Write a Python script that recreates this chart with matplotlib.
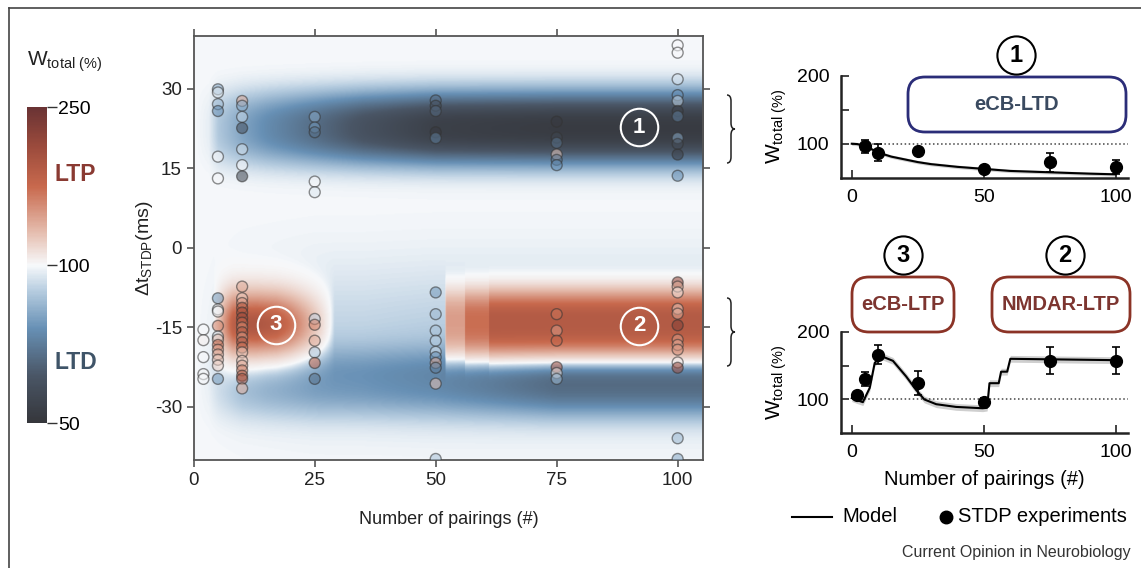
import numpy as np
import matplotlib
matplotlib.use('Agg')
import matplotlib.pyplot as plt
from matplotlib.colors import LinearSegmentedColormap, TwoSlopeNorm
from matplotlib.lines import Line2D
from matplotlib.patches import FancyBboxPatch, PathPatch
from matplotlib.path import Path
import matplotlib.cm as cm

plt.rcParams['font.family'] = ['Liberation Sans', 'DejaVu Sans']
plt.rcParams['mathtext.fontset'] = 'custom'
plt.rcParams['mathtext.rm'] = 'Liberation Sans'
plt.rcParams['mathtext.it'] = 'Liberation Sans:italic'
plt.rcParams['mathtext.bf'] = 'Liberation Sans:bold'
plt.rcParams['axes.unicode_minus'] = False

# ---------------- model map: strength of each domain vs number of pairings
knot_n        = [0, 3, 5, 10, 15, 20, 25, 35, 50, 60, 75, 100, 106]
ltd_up_amp    = [0, 2, 9, 16, 21, 25, 29, 37, 45, 46, 47, 47, 47]
ltd_low_core  = [0, 1, 4, 9, 11, 12, 13, 14, 16, 19, 24, 24, 24]
ltd_low_broad = [0, 1, 2, 4, 5, 6, 7, 7, 8, 8, 8, 8, 8]

ecb_ltp_n   = [0, 4, 6, 8, 10, 13, 17, 20, 25, 29, 106]
ecb_ltp_amp = [0, 0, 48, 88, 100, 102, 95, 76, 34, 0, 0]

nmdar_n   = [0, 51.9, 52, 55.9, 56, 60.9, 61, 106]
nmdar_amp = [0, 0, 55, 55, 80, 80, 100, 100]

# ---------------- single experiments (pairings, dt, W total %)
col_n = [2, 5, 10, 25, 50, 75, 100]
col_dt = {
    2:   [-15.4, -17.4, -20.6, -23.8, -24.7],
    5:   [29.9, 29.3, 27.1, 25.8, 17.2, 13.1,
          -9.5, -11.6, -12.0, -14.7, -16.7, -17.3, -18.3, -19.2, -20.1, -21.1, -22.2, -24.7],
    10:  [27.7, 26.8, 24.7, 22.6, 18.6, 15.6, 13.5,
          -7.3, -9.5, -10.4, -11.3, -12.2, -13.2, -14.1, -15.0, -15.9, -16.9, -17.8, -18.8,
          -19.7, -21.3, -22.2, -23.1, -24.1, -24.7, -26.5],
    25:  [24.7, 22.7, 21.8, 12.5, 10.5, -13.4, -14.5, -17.5, -19.7, -21.7, -24.7],
    50:  [27.8, 26.8, 25.8, 21.8, 20.7,
          -8.4, -12.5, -15.6, -17.5, -19.6, -20.6, -21.7, -22.6, -25.6, -39.8],
    75:  [23.8, 20.8, 19.8, 17.6, 16.6, 15.6, -12.5, -15.6, -17.5, -22.5, -23.6, -24.7],
    100: [38.2, 36.8, 31.8, 28.8, 27.7, 25.8, 24.8, 20.7, 19.6, 17.6, 13.6,
          -6.5, -7.3, -8.4, -11.5, -12.4, -14.6, -17.3, -18.3, -19.2, -21.6, -22.6, -35.9, -39.8],
}
col_w = {
    2:   [100, 105, 100, 102, 100],
    5:   [85, 97, 88, 80, 100, 100,
          82, 97, 102, 160, 95, 130, 175, 150, 140, 130, 120, 82],
    10:  [140, 85, 93, 62, 95, 100, 58,
          140, 125, 150, 190, 200, 210, 180, 160, 190, 150, 200, 170,
          130, 125, 145, 160, 185, 200, 140],
    25:  [85, 82, 72, 100, 97, 93, 160, 140, 90, 180, 72],
    50:  [70, 62, 70, 52, 75, 82, 88, 90, 92, 95, 80, 140, 75, 130, 90],
    75:  [52, 58, 72, 125, 72, 80, 170, 150, 180, 200, 110, 88],
    100: [100, 100, 96, 80, 93, 55, 75, 85, 60, 55, 80,
          220, 140, 115, 125, 140, 230, 150, 145, 150, 110, 210, 88, 85],
}

# ---------------- mean data and model for right panels
ltd_n   = [5, 10, 25, 50, 75, 100]
ltd_w   = [96, 87, 89, 63, 73, 66]
ltd_err = [10, 12, 3, 4, 14, 10]
ltd_model_n = [0, 2, 5, 8, 10, 15, 20, 25, 30, 40, 50, 60, 75, 90, 100]
ltd_model_w = [100, 99.5, 97, 91, 87, 81, 77, 73, 70, 66, 63, 60, 58, 56, 55]

ltp_n   = [2, 5, 10, 25, 50, 75, 100]
ltp_w   = [107, 130, 166, 124, 96, 157, 157]
ltp_err = [3, 10, 14, 18, 6, 20, 20]
ltp_model_n = [0, 2, 4.2, 6.8, 8.7, 11.2, 15.6, 20.6, 24.4, 27.5, 32, 39.5, 49.6,
               51.3, 52.2, 55.7, 56.6, 58.9, 60.1, 100]
ltp_model_w = [102, 99, 96, 117, 154, 164, 157, 134, 114, 100, 93, 89, 87,
               88, 124, 124, 141, 141, 160, 158]

# ---------------- colours
cmap = LinearSegmentedColormap.from_list('wtot', [
    (0.0, '#35363b'), (0.15, '#4a5666'), (0.3, '#6790b5'), (0.42, '#b7cde0'),
    (0.5, '#f7f9fb'), (0.6, '#e6c0b2'), (0.75, '#c8694d'), (0.88, '#9a4a3c'),
    (1.0, '#6a3334')])
norm = TwoSlopeNorm(vmin=50, vcenter=100, vmax=250)

fig = plt.figure(figsize=(11.41, 5.68), dpi=100)

def px(x, y):
    return x / 100.0, (568 - y) / 100.0

# ---------------- main map
ax = fig.add_axes([0.1698, 0.1901, 0.4466, 0.7470])
n_axis = np.linspace(0, 105.3, 700)
dt_axis = np.linspace(-40, 40, 500)
DT = dt_axis[:, None]
a_up = np.interp(n_axis, knot_n, ltd_up_amp)[None, :]
a_core = np.interp(n_axis, knot_n, ltd_low_core)[None, :]
a_broad = np.interp(n_axis, knot_n, ltd_low_broad)[None, :]
a_ecb = np.interp(n_axis, ecb_ltp_n, ecb_ltp_amp)[None, :]
a_nm = np.interp(n_axis, nmdar_n, nmdar_amp)[None, :]
W = (100
     - a_up * np.exp(-(np.abs(DT - 22.5) / 7.0) ** 2.6)
     - a_core * np.exp(-(np.abs(DT + 25.5) / 6.5) ** 2.6)
     - a_broad * np.exp(-0.5 * ((DT + 18) / 10.0) ** 2)
     + a_ecb * np.exp(-0.5 * ((DT + 14.5) / 4.2) ** 2)
     + a_nm * np.exp(-(np.abs(DT + 14.5) / 6.5) ** 3))
ax.imshow(W, extent=[0, 105.3, -40, 40], origin='lower', aspect='auto',
          cmap=cmap, norm=norm, interpolation='bilinear')

pn, pdt, pw = [], [], []
for n in col_n:
    pn += [n] * len(col_dt[n])
    pdt += col_dt[n]
    pw += col_w[n]
ax.scatter(pn, pdt, c=pw, cmap=cmap, norm=norm, s=62, alpha=0.55,
           edgecolors='#333333', linewidths=1.0, zorder=3)

ax.set_xlim(0, 105.3)
ax.set_ylim(-40, 40)
ax.set_xticks([0, 25, 50, 75, 100])
ax.set_yticks([30, 15, 0, -15, -30])
ax.tick_params(direction='out', length=5, width=1.2, color='#555555',
               labelsize=13.5, top=True, right=True, labelcolor='#222222')
for s in ax.spines.values():
    s.set_color('#555555')
    s.set_linewidth(1.3)
ax.set_xlabel('Number of pairings (#)', fontsize=13, labelpad=16, color='#222222')
ax.set_ylabel(r'$\Delta$t$_{\rm STDP}$(ms)', fontsize=14, labelpad=0, color='#222222')

annot_labels = ['1', '2', '3']
annot_n = [92, 92, 17]
annot_dt = [22.7, -14.7, -14.5]
for lab, n, dt in zip(annot_labels, annot_n, annot_dt):
    ax.plot(n, dt, 'o', ms=27, mfc='none', mec='white', mew=1.5, zorder=4)
    ax.text(n, dt, lab, color='white', fontsize=16, fontweight='bold',
            ha='center', va='center', zorder=5)

# braces
def brace(x, y_top, y_bot, w=8, r=6):
    ym = (y_top + y_bot) / 2
    h = x + w / 2
    pts = [(x, y_top), (h, y_top), (h, y_top + r), (h, ym - r), (h, ym), (x + w, ym),
           (h, ym), (h, ym + r), (h, y_bot - r), (h, y_bot), (x, y_bot)]
    codes = [Path.MOVETO, Path.CURVE3, Path.CURVE3, Path.LINETO, Path.CURVE3, Path.CURVE3,
             Path.CURVE3, Path.CURVE3, Path.LINETO, Path.CURVE3, Path.CURVE3]
    path = Path([px(a, b) for a, b in pts], codes)
    fig.add_artist(PathPatch(path, fc='none', ec='#222222', lw=1.1,
                             transform=fig.dpi_scale_trans))

brace(727, 95, 163)
brace(727, 298, 366)

# ---------------- colorbar
cax = fig.add_axes([0.0234, 0.2548, 0.0175, 0.5563])
sm = cm.ScalarMappable(norm=norm, cmap=cmap)
cb = fig.colorbar(sm, cax=cax, ticks=[50, 100, 250])
cb.outline.set_visible(False)
cax.tick_params(length=7, width=1, color='#333333', labelsize=14, pad=1)
fig.text(0.0237, 0.891, r'W$_{\rm total\ (\%)}$', fontsize=15, color='#222222', va='center')
fig.text(0.048, 0.692, 'LTP', fontsize=16.5, fontweight='bold', color='#8a3a32', va='center')
fig.text(0.048, 0.361, 'LTD', fontsize=16.5, fontweight='bold', color='#3f5468', va='center')

# ---------------- right panels
def style_small(a):
    a.set_xlim(-4.2, 104.7)
    a.set_ylim(50, 200)
    a.set_xticks([0, 50, 100])
    a.set_yticks([100, 150, 200])
    a.set_yticklabels(['100', '', '200'])
    a.spines['top'].set_visible(False)
    a.spines['right'].set_visible(False)
    for s in ('left', 'bottom'):
        a.spines[s].set_color('#222222')
        a.spines[s].set_linewidth(1.8)
    a.tick_params(direction='in', length=6, width=1.2, labelsize=14, color='#222222', pad=8)
    a.hlines(100, 0, 104.7, colors='#444444', linestyles=':', lw=1.1)
    a.set_ylabel(r'W$_{\rm total\ (\%)}$', fontsize=15, labelpad=6)

ax1 = fig.add_axes([0.7368, 0.6871, 0.2518, 0.1796])
style_small(ax1)
m = np.array(ltd_model_w)
ax1.fill_between(ltd_model_n, m - 2.5, m + 2.5, color='#cfcfcf', lw=0)
ax1.plot(ltd_model_n, ltd_model_w, color='black', lw=1.5)
ax1.errorbar(ltd_n, ltd_w, yerr=ltd_err, fmt='o', color='black', ms=8.5,
             capsize=3, elinewidth=1.2, capthick=1.2, zorder=4, clip_on=False)

ax2 = fig.add_axes([0.7368, 0.2371, 0.2518, 0.1789])
style_small(ax2)
m = np.array(ltp_model_w)
ax2.fill_between(ltp_model_n, m - 5, m + 5, color='#cfcfcf', lw=0)
ax2.plot(ltp_model_n, ltp_model_w, color='black', lw=1.5)
ax2.errorbar(ltp_n, ltp_w, yerr=ltp_err, fmt='o', color='black', ms=8.5,
             capsize=3, elinewidth=1.2, capthick=1.2, zorder=4, clip_on=False)
ax2.set_xlabel('Number of pairings (#)', fontsize=14.5, labelpad=6)

# boxes and numbered circles
def box(x0, y0, x1, y1, text, ec, tc):
    bx, by = px(x0, y1)
    p = FancyBboxPatch((bx, by), (x1 - x0) / 100, (y1 - y0) / 100,
                       boxstyle='round,pad=0,rounding_size=0.17', fc='white',
                       ec=ec, lw=2, transform=fig.dpi_scale_trans)
    fig.add_artist(p)
    cx, cy = px((x0 + x1) / 2, (y0 + y1) / 2)
    fig.text(cx, cy, text, transform=fig.dpi_scale_trans, ha='center', va='center',
             fontsize=14.5, fontweight='bold', color=tc)

def num(x, y, lab):
    cx, cy = px(x, y)
    fig.add_artist(Line2D([cx], [cy], marker='o', ms=27.5, mfc='white', mec='black',
                          mew=1.5, transform=fig.dpi_scale_trans))
    fig.text(cx, cy, lab, transform=fig.dpi_scale_trans, ha='center', va='center',
             fontsize=17, fontweight='bold', color='black')

box(908, 77, 1126, 132, 'eCB-LTD', '#2b2d78', '#3a4a60')
box(852, 277, 954, 332, 'eCB-LTP', '#8b3326', '#7d3530')
box(992, 277, 1130, 332, 'NMDAR-LTP', '#8b3326', '#7d3530')
num(1016, 55, '1')
num(903, 255, '3')
num(1065, 255, '2')

# legend
lx, ly = px(792, 517)
lx2, _ = px(832, 517)
fig.add_artist(Line2D([lx, lx2], [ly, ly], color='black', lw=1.5, transform=fig.dpi_scale_trans))
fig.text(8.42, ly, 'Model', transform=fig.dpi_scale_trans, fontsize=14.5, va='center')
fig.add_artist(Line2D([9.46], [ly], marker='o', ms=9, color='black', transform=fig.dpi_scale_trans))
fig.text(9.58, ly, 'STDP experiments', transform=fig.dpi_scale_trans, fontsize=14.5, va='center')
fig.text(0.991, 0.027, 'Current Opinion in Neurobiology', fontsize=11.5, ha='right',
         va='center', color='#333333')

# frame lines
fig.add_artist(Line2D([0.0079, 1], [0.986, 0.986], transform=fig.transFigure, color='#444444', lw=1.2))
fig.add_artist(Line2D([0.0079, 0.0079], [0, 0.986], transform=fig.transFigure, color='#444444', lw=1.2))

fig.savefig('out.png', dpi=100)
